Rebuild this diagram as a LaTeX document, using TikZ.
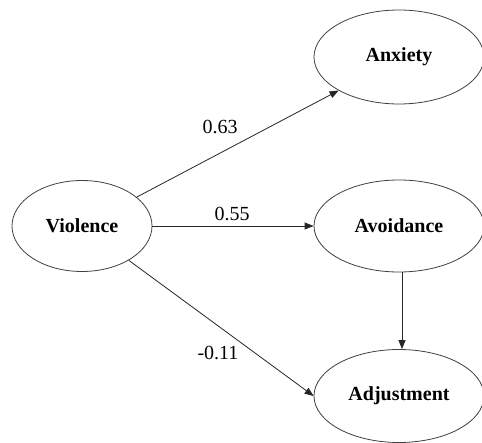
\documentclass[tikz,border=0pt]{standalone}
\usepackage{fontspec}
\setmainfont{Liberation Serif}
\usetikzlibrary{shapes.geometric,arrows.meta}
\begin{document}
\begin{tikzpicture}[x=1pt,y=-1pt,
  latent/.style={draw=black!75,line width=0.8pt,ellipse,inner sep=0pt,font=\fontsize{20}{22}\selectfont\bfseries},
  path/.style={draw=black!85,line width=0.8pt,-{Triangle[length=9pt,width=7pt]}},
  coef/.style={font=\fontsize{20}{22}\selectfont,inner sep=0pt}]
\useasboundingbox[fill=white] (0,0) rectangle (482,443);
\node[latent,minimum width=140pt,minimum height=91pt] (vio) at (82,226) {Violence};
\node[latent,minimum width=170pt,minimum height=94pt] (anx) at (399,57) {Anxiety};
\node[latent,minimum width=170pt,minimum height=92pt] (avo) at (399,226) {Avoidance};
\node[latent,minimum width=170pt,minimum height=93pt] (adj) at (399,396) {Adjustment};
\draw[path] (vio) -- (anx.south west);
\draw[path] (vio.east) -- (avo.west);
\draw[path] (vio) -- (adj.west);
\draw[path] ([xshift=3pt]avo.south) -- ([xshift=3pt]adj.north);
\node[coef] (c1) at (220,127) {0.63};
\node[coef] (c2) at (232,214) {0.55};
\node[coef] (c3) at (218,353) {-0.11};
\end{tikzpicture}
\end{document}
